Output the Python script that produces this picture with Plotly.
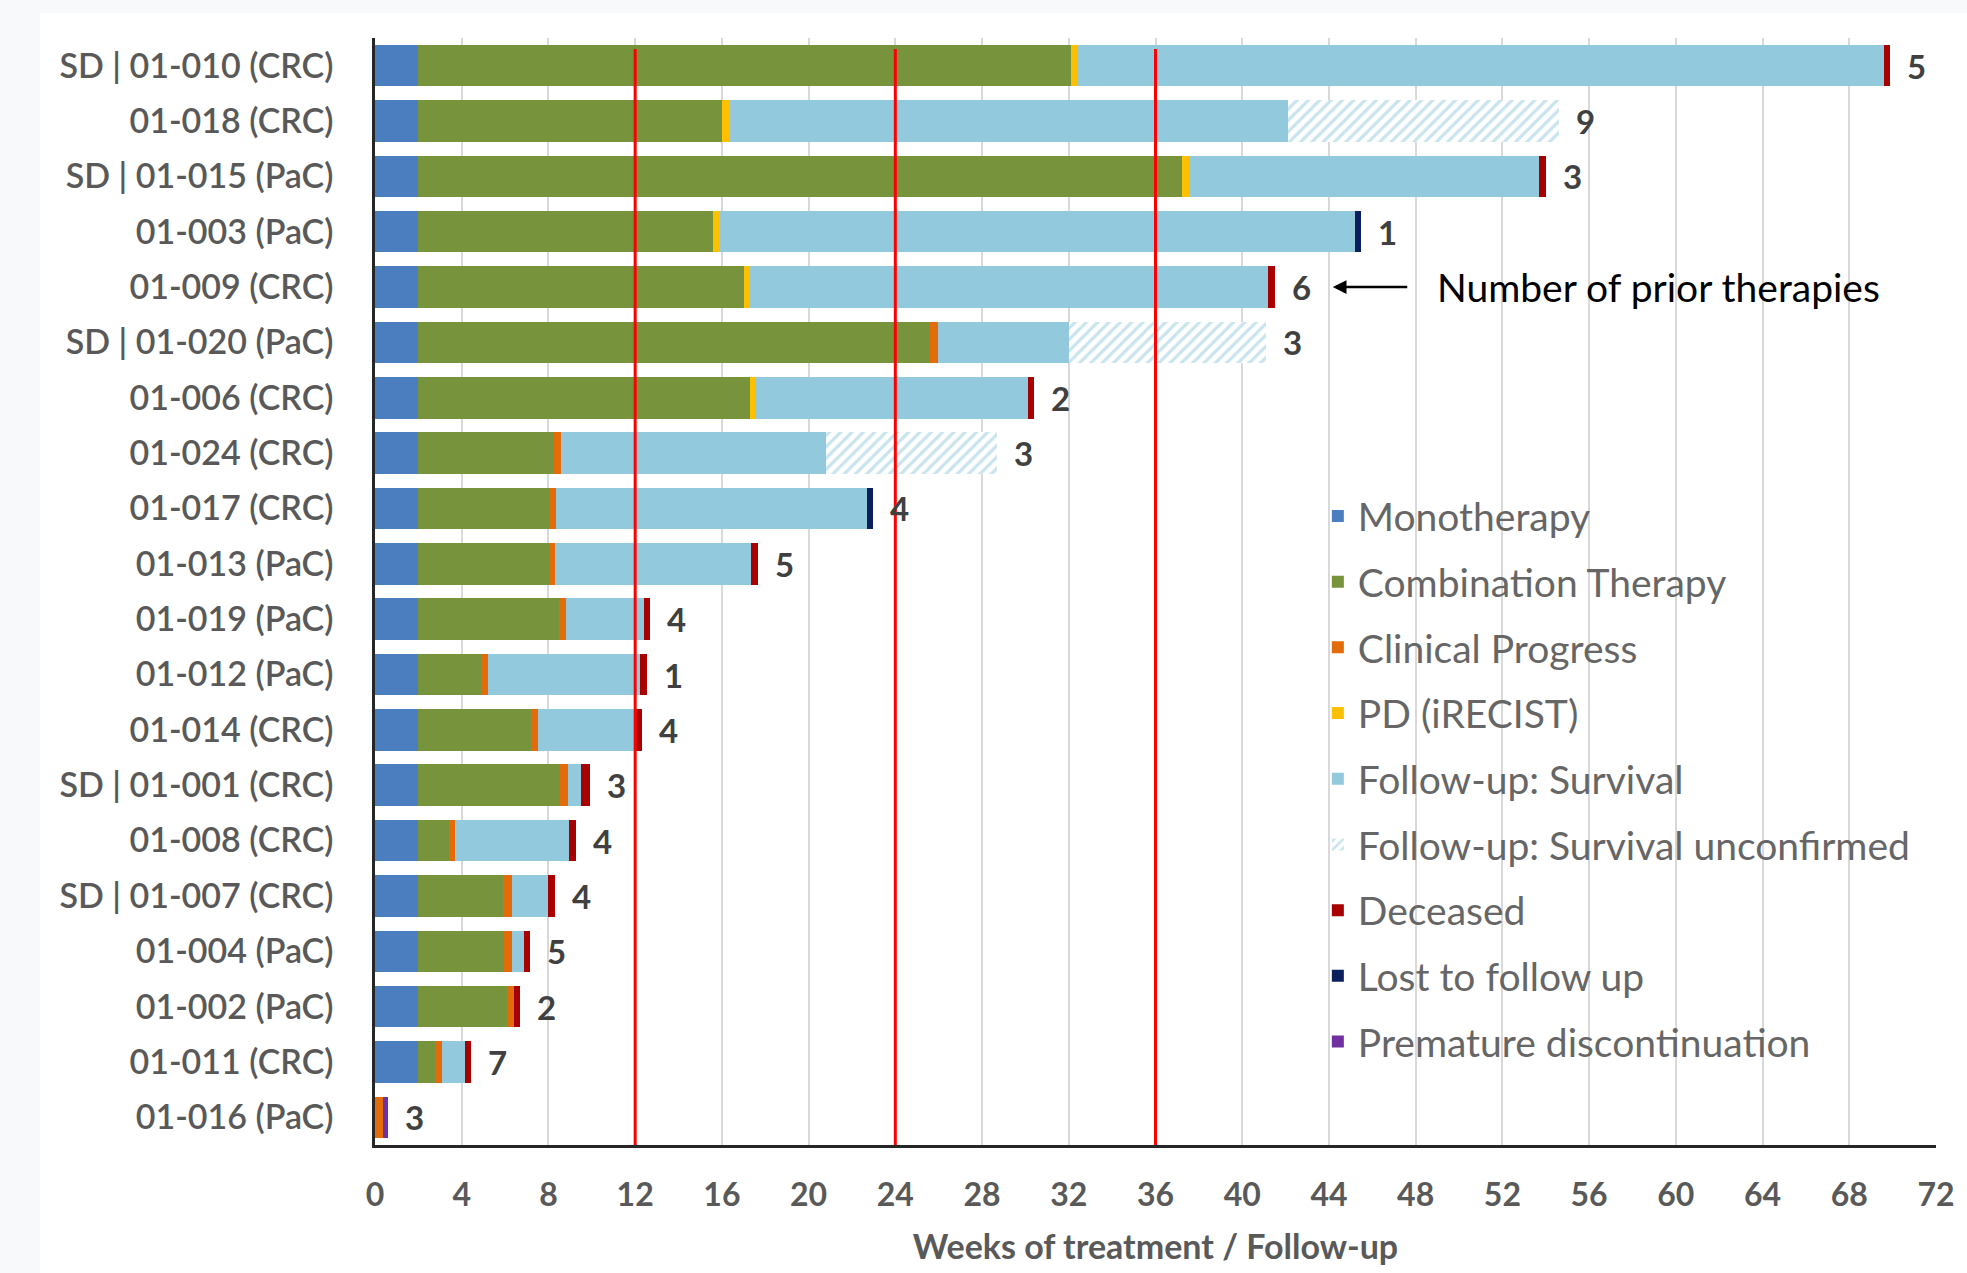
import plotly.graph_objects as go

# ---------------- data ----------------
patients = [
    "SD | 01-010 (CRC)", "01-018 (CRC)", "SD | 01-015 (PaC)", "01-003 (PaC)",
    "01-009 (CRC)", "SD | 01-020 (PaC)", "01-006 (CRC)", "01-024 (CRC)",
    "01-017 (CRC)", "01-013 (PaC)", "01-019 (PaC)", "01-012 (PaC)",
    "01-014 (CRC)", "SD | 01-001 (CRC)", "01-008 (CRC)", "SD | 01-007 (CRC)",
    "01-004 (PaC)", "01-002 (PaC)", "01-011 (CRC)", "01-016 (PaC)",
]
# durations in weeks for each phase
monotherapy   = [2, 2, 2, 2, 2, 2, 2, 2, 2, 2, 2, 2, 2, 2, 2, 2, 2, 2, 2, 0]
combination   = [30.1, 14.0, 35.2, 13.6, 15.0, 23.6, 15.3, 6.25, 6.05, 6.05,
                 6.5, 2.9, 5.2, 6.55, 1.4, 3.9, 3.95, 4.1, 0.75, 0]
clinical_prog = [0, 0, 0, 0, 0, 0.35, 0, 0.35, 0.3, 0.25,
                 0.3, 0.3, 0.3, 0.35, 0.3, 0.4, 0.35, 0.3, 0.35, 0.35]
pd_irecist    = [0.3, 0.35, 0.4, 0.3, 0.25, 0, 0.25, 0, 0, 0,
                 0, 0, 0, 0, 0, 0, 0, 0, 0, 0]
fu_survival   = [37.2, 25.75, 16.1, 29.3, 23.95, 6.05, 12.55, 12.2, 14.35, 9.05,
                 3.6, 7.0, 4.55, 0.6, 5.25, 1.7, 0.55, 0, 1.05, 0]
fu_unconf     = [0, 12.5, 0, 0, 0, 9.1, 0, 7.9, 0, 0,
                 0, 0, 0, 0, 0, 0, 0, 0, 0, 0]
deceased      = [0.3, 0, 0.3, 0, 0.3, 0, 0.3, 0, 0, 0.3,
                 0.3, 0.35, 0.25, 0.4, 0.3, 0.3, 0.3, 0.3, 0.3, 0]
lost_fu       = [0, 0, 0, 0.3, 0, 0, 0, 0, 0.25, 0,
                 0, 0, 0, 0, 0, 0, 0, 0, 0, 0]
premature     = [0, 0, 0, 0, 0, 0, 0, 0, 0, 0,
                 0, 0, 0, 0, 0, 0, 0, 0, 0, 0.25]
prior_therapies = [5, 9, 3, 1, 6, 3, 2, 3, 4, 5, 4, 1, 4, 3, 4, 4, 5, 2, 7, 3]

milestones = [12, 24, 36]
x_ticks = list(range(0, 73, 4))
callout_patient = "01-009 (CRC)"
callout_text = "Number of prior therapies"

# ---------------- styling ----------------
FONT = "Lato"
series = [
    ("Monotherapy", monotherapy, "#4a7ebf", None),
    ("Combination Therapy", combination, "#77933c", None),
    ("Clinical Progress", clinical_prog, "#e36c0a", None),
    ("PD (iRECIST)", pd_irecist, "#ffc000", None),
    ("Follow-up: Survival", fu_survival, "#93c9dc", None),
    ("Follow-up: Survival unconfirmed", fu_unconf, "#ffffff", "#93c9dc"),
    ("Deceased", deceased, "#a80000", None),
    ("Lost to follow up", lost_fu, "#0b1f5c", None),
    ("Premature discontinuation", premature, "#7030a0", None),
]

fig = go.Figure()
for i, (name, vals, color, hatch) in enumerate(series):
    marker = dict(color=color, line=dict(width=0))
    if hatch:
        marker["pattern"] = dict(shape="/", fgcolor=hatch, bgcolor="#ffffff",
                                 size=8, solidity=0.4)
    fig.add_trace(go.Bar(
        y=patients, x=vals, name=name, orientation="h",
        marker=marker, legendgroup=name, hoverinfo="x+y+name",
    ))

# totals and prior-therapy labels
totals = [sum(v[i] for _, v, _, _ in series) for i in range(len(patients))]
annotations = []
for p, t, n in zip(patients, totals, prior_therapies):
    annotations.append(dict(
        x=t, y=p, xref="x", yref="y", text=str(n), showarrow=False,
        xanchor="left", xshift=15,
        font=dict(family=FONT, size=33, color="#404040", weight="bold"),
    ))

# callout arrow and text
ci = patients.index(callout_patient)
annotations.append(dict(
    x=totals[ci], y=callout_patient, xref="x", yref="y", text="",
    showarrow=True, arrowhead=2, arrowsize=1.1, arrowwidth=2.5,
    arrowcolor="#000000", ax=76, ay=0, axref="pixel", ayref="pixel",
    xshift=58,
))
annotations.append(dict(
    x=totals[ci], y=callout_patient, xref="x", yref="y", text=callout_text,
    showarrow=False, xanchor="left", xshift=160,
    font=dict(family=FONT, size=39, color="#000000"),
))

shapes = []
# page frame (slightly off-white outside the chart area)
shapes.append(dict(type="rect", xref="paper", yref="paper",
                   x0=-0.2145, x1=1.02, y0=-0.2, y1=1.0226,
                   fillcolor="#ffffff", line=dict(width=0), layer="below"))
for m in milestones:
    shapes.append(dict(type="line", xref="x", yref="paper", x0=m, x1=m,
                       y0=0, y1=0.99, line=dict(color="#ff0000", width=3),
                       layer="above"))

fig.update_layout(
    width=1967, height=1273,
    margin=dict(l=375, r=20, t=38, b=128),
    barmode="stack", bargap=0.25,
    paper_bgcolor="#f8f9fb", plot_bgcolor="#ffffff",
    font=dict(family=FONT, color="#595959"),
    showlegend=True,
    legend=dict(
        x=0.604, y=0.597, xanchor="left", yanchor="top",
        font=dict(family=FONT, size=39, color="#666666"),
        bgcolor="rgba(255,255,255,0)", tracegroupgap=12,
        traceorder="grouped",
    ),
    annotations=annotations,
    shapes=shapes,
)
fig.update_xaxes(
    range=[0, 72], tickvals=x_ticks, showgrid=True, gridcolor="#d9d9d9",
    gridwidth=1.5, zeroline=False, showline=True, linecolor="#262626",
    linewidth=2.5, ticks="", ticklabelstandoff=20, ticklabeloverflow="allow",
    tickfont=dict(family=FONT, size=32, color="#595959", weight="bold"),
    title=dict(text="Weeks of treatment / Follow-up", standoff=24,
               font=dict(family=FONT, size=34, color="#595959", weight="bold")),
)
fig.update_yaxes(
    categoryorder="array", categoryarray=patients, autorange="reversed",
    showgrid=False, showline=True, linecolor="#262626", linewidth=2.5,
    ticks="", ticklabelstandoff=32,
    tickfont=dict(family=FONT, size=34, color="#595959", weight=600),
)

fig.write_html("out.html", config={"displayModeBar": False},
               post_script="document.body.style.margin='0';")
